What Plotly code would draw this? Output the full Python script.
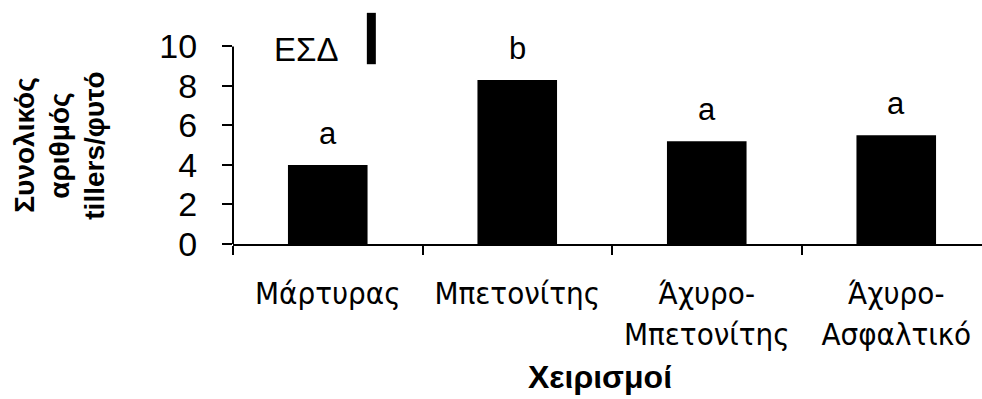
import plotly.graph_objects as go

# Treatments and mean total tillers per plant
treatments = ["Μάρτυρας", "Μπετονίτης", "Άχυρο-<br>Μπετονίτης", "Άχυρο-<br>Ασφαλτικό"]
tillers = [4.0, 8.3, 5.2, 5.5]
groups = ["a", "b", "a", "a"]  # significance letters
y_ticks = [0, 2, 4, 6, 8, 10]
y_title_lines = ["Συνολικός", "αριθμός", "tillers/φυτό"]
x_title = "Χειρισμοί"

# Least significant difference bar
lsd_value = 2.6
lsd_center = 10.4
lsd_x = 0.23

W, H = 982, 399
L, R, T, B = 233, 0, 0, 154.5
y_max = 12.35
PW, PH = W - L - R, H - T - B


def px_x(p):
    return (p - L) / PW


def px_y(p):
    return (H - B - p) / PH


fig = go.Figure()
fig.add_trace(go.Bar(
    x=treatments, y=tillers, width=0.42,
    marker=dict(color="black", line=dict(width=0)),
    showlegend=False,
))

for t, v, g in zip(treatments, tillers, groups):
    fig.add_annotation(x=t, y=v, text=g, showarrow=False, yanchor="bottom",
                       yshift=12, font=dict(family="Liberation Sans, Arial", size=31, color="black"))

# y axis line from 0 to 10
fig.add_shape(type="line", xref="paper", yref="y", x0=0, x1=0, y0=0, y1=10,
              line=dict(color="black", width=2))

# LSD bar and label
fig.add_shape(type="line", xref="x", yref="y", x0=lsd_x, x1=lsd_x,
              y0=lsd_center - lsd_value / 2, y1=lsd_center + lsd_value / 2,
              line=dict(color="black", width=9))
fig.add_annotation(x=-0.116, y=9.87, xref="x", yref="y", text="ΕΣΔ", showarrow=False,
                   font=dict(family="Liberation Sans, Arial", size=33, color="black"))

# axis titles
fig.add_annotation(xref="paper", yref="paper", x=px_x(600), y=px_y(378),
                   text="<b>" + x_title + "</b>", showarrow=False, xanchor="center", yanchor="middle",
                   font=dict(family="Liberation Sans, Arial", size=32, color="black"))
for line, cx in zip(y_title_lines, [25, 60, 95]):
    fig.add_annotation(xref="paper", yref="paper", x=px_x(cx), y=px_y(146),
                       text="<b>" + line + "</b>", showarrow=False,
                       textangle=-90, xanchor="center", yanchor="middle",
                       font=dict(family="Liberation Sans, Arial", size=28, color="black"))

fig.update_layout(
    width=W, height=H,
    margin=dict(l=L, r=R, t=T, b=B, pad=0),
    plot_bgcolor="white", paper_bgcolor="white",
    xaxis=dict(
        type="category", range=[-0.5, PW / 189.5 - 0.5],
        showline=True, linecolor="black", linewidth=2,
        ticks="outside", tickson="boundaries", ticklen=9, tickwidth=2, tickcolor="black",
        tickfont=dict(family="Liberation Sans Narrow, DejaVu Sans Condensed, Arial", size=31, color="black"),
        ticklabelstandoff=21,
        showgrid=False, zeroline=False, fixedrange=True,
    ),
    yaxis=dict(
        range=[0, y_max], tickvals=y_ticks, ticktext=[str(v) for v in y_ticks],
        showline=False, ticks="outside", ticklen=10, tickwidth=2, tickcolor="black",
        tickfont=dict(family="Liberation Sans, Arial", size=34, color="black"),
        ticklabelstandoff=18,
        showgrid=False, zeroline=False, fixedrange=True,
    ),
)

fig.write_html("out.html")
